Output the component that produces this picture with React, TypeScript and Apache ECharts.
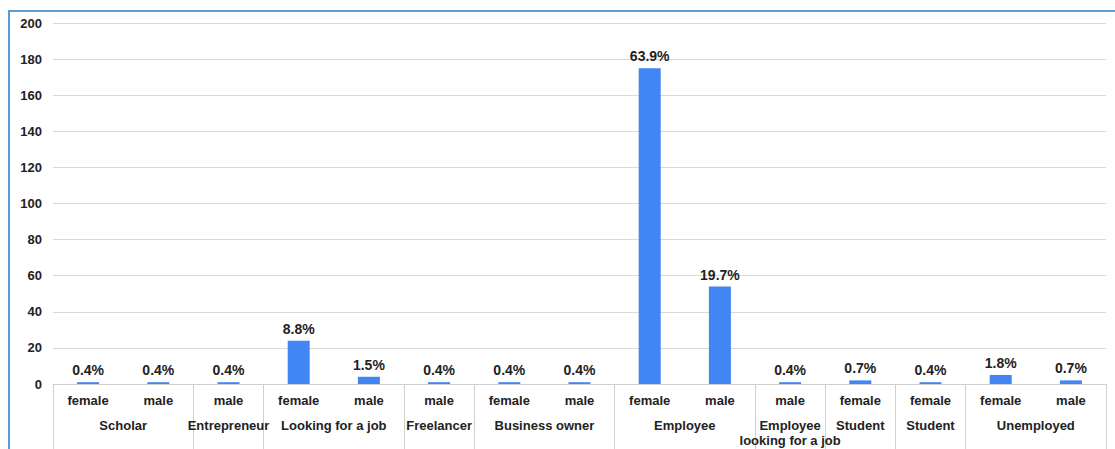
import React, { useEffect, useRef } from "react";
import * as echarts from "echarts";

const groupNames = [
  "Scholar",
  "Entrepreneur",
  "Looking for a job",
  "Freelancer",
  "Business owner",
  "Employee",
  "Employee\nlooking for a job",
  "Student",
  "Student",
  "Unemployed",
];
const genders = ["female", "male", "male", "female", "male", "male", "female", "male", "female", "male", "male", "female", "female", "female", "male"];
const groupOf = [0, 0, 1, 2, 2, 3, 4, 4, 5, 5, 6, 7, 8, 9, 9];
const counts = [1, 1, 1, 24, 4, 1, 1, 1, 175, 54, 1, 2, 1, 5, 2];
const percentLabels = ["0.4%", "0.4%", "0.4%", "8.8%", "1.5%", "0.4%", "0.4%", "0.4%", "63.9%", "19.7%", "0.4%", "0.7%", "0.4%", "1.8%", "0.7%"];
const yTicks = { min: 0, max: 200, interval: 20 };

const TEXT = "#222222";
const FONT = "Liberation Sans, Arial, sans-serif";

export default function App() {
  const ref = useRef<HTMLDivElement>(null);
  useEffect(() => {
    if (!ref.current) return;
    const chart = echarts.init(ref.current, undefined, { renderer: "svg" });

    const starts: number[] = [];
    groupOf.forEach((g, i) => {
      if (i === 0 || groupOf[i - 1] !== g) starts.push(i);
    });
    const centerMap: Record<string, string> = {};
    groupNames.forEach((name, g) => {
      const idx = groupOf.map((v, i) => (v === g ? i : -1)).filter((i) => i >= 0);
      const c = (idx[0] + idx[idx.length - 1] + 1) / 2;
      centerMap[c.toFixed(1)] = name;
    });

    chart.setOption({
      animation: false,
      textStyle: { fontFamily: FONT },
      grid: { left: 53, right: 9, top: 23, bottom: 65 },
      xAxis: [
        {
          type: "category",
          data: genders,
          axisLine: { show: true, lineStyle: { color: "#d0d0d0", width: 1 } },
          axisTick: {
            show: true,
            interval: (i: number) => starts.includes(i),
            length: 70,
            lineStyle: { color: "#d0d0d0", width: 1 },
          },
          axisLabel: {
            interval: 0,
            margin: 10,
            color: TEXT,
            fontWeight: "bold",
            fontSize: 13,
            fontFamily: FONT,
          },
          splitLine: { show: false },
        },
        {
          type: "value",
          position: "bottom",
          min: 0,
          max: genders.length,
          interval: 0.5,
          axisLine: { show: false },
          axisTick: { show: false },
          splitLine: { show: false },
          axisLabel: {
            margin: 34,
            color: TEXT,
            fontWeight: "bold",
            fontSize: 13,
            lineHeight: 15,
            fontFamily: FONT,
            formatter: (v: number) => centerMap[Number(v).toFixed(1)] || "",
          },
        },
      ],
      yAxis: {
        type: "value",
        min: yTicks.min,
        max: yTicks.max,
        interval: yTicks.interval,
        axisLine: { show: false },
        axisTick: { show: false },
        axisLabel: { color: TEXT, fontWeight: "bold", fontSize: 13, margin: 11, fontFamily: FONT },
        splitLine: { lineStyle: { color: "#d9d9d9", width: 1 } },
      },
      series: [
        {
          type: "bar",
          xAxisIndex: 0,
          data: counts,
          barWidth: 22,
          itemStyle: { color: "#4285F4" },
          label: {
            show: true,
            position: "top",
            distance: 5,
            color: TEXT,
            fontWeight: "bold",
            fontSize: 14,
            fontFamily: FONT,
            formatter: (p: any) => percentLabels[p.dataIndex],
          },
        },
      ],
      graphic: [
        { type: "line", shape: { x1: 9, y1: 10, x2: 9, y2: 449 }, style: { stroke: "#5B9BD5", lineWidth: 2 } },
        { type: "line", shape: { x1: 9, y1: 11, x2: 1115, y2: 11 }, style: { stroke: "#5B9BD5", lineWidth: 2 } },
      ],
    });
    return () => chart.dispose();
  }, []);
  return (
    <div
      ref={ref}
      style={{ position: "fixed", left: 0, top: 0, width: 1115, height: 449, background: "#fff" }}
    />
  );
}
